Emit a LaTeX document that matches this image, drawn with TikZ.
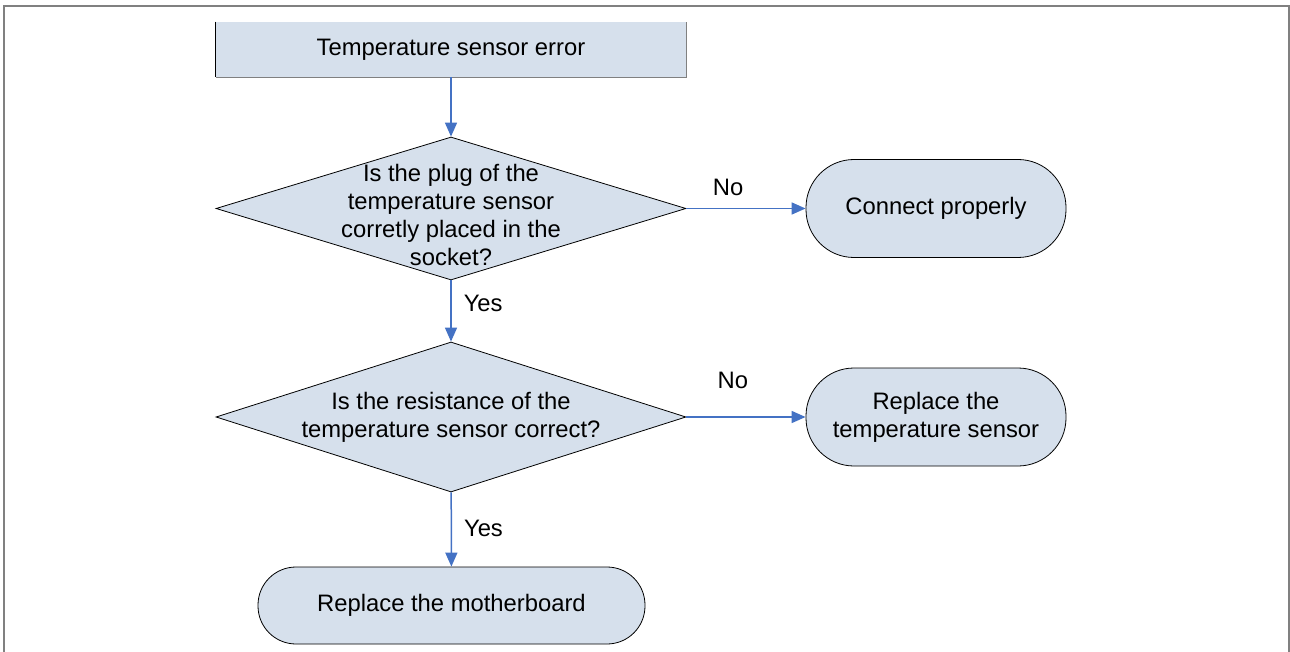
\documentclass[tikz,border=0pt]{standalone}
\usepackage{fontspec}
\setmainfont{Liberation Sans}
\usetikzlibrary{shapes.geometric, arrows.meta}
\definecolor{boxfill}{RGB}{214,224,236}
\definecolor{flowblue}{RGB}{68,114,196}

\begin{document}
\begin{tikzpicture}[x=0.5pt, y=-0.5pt,
    every node/.style={font=\fontsize{11.9}{14}\selectfont},
    startbox/.style={fill=boxfill, minimum width=235pt, minimum height=27.5pt, inner sep=0pt},
    decision/.style={diamond, draw, fill=boxfill, minimum width=235pt, minimum height=71.5pt, inner sep=0pt},
    terminal/.style={draw, fill=boxfill, rounded corners=24pt, minimum width=130pt, minimum height=49pt, align=center},
    flow/.style={flowblue, line width=0.75pt, -{Triangle[length=7pt, width=6pt]}},
    answer/.style={inner sep=0pt, text=black}]
    \useasboundingbox (0,0) rectangle (1290,652);
    \draw[gray, line width=1pt] (4,652) -- (4,6) -- (1289,6) -- (1289,652);

    \node[startbox] (err) at (451,49.5) {Temperature sensor error};
    \draw (err.north west) -- (err.south west);
    \draw[gray] (err.south west) -- (err.south east) -- (err.north east);

    \node[decision] (plug) at (451,208.5) {};
    \node[align=center] (plugtxt) at ([yshift=-3pt]plug.center) {Is the plug of the\\temperature sensor\\corretly placed in the\\socket?};
    \node[decision, minimum height=75pt] (res) at (451,417) {};
    \node[align=center] (restxt) at (res.center) {Is the resistance of the\\temperature sensor correct?};

    \node[terminal] (connect) at (936,208.5) {Connect properly};
    \node[terminal] (sensor) at (936,417) {Replace the\\temperature sensor};
    \node[terminal, rounded corners=19pt, minimum width=193.5pt, minimum height=38.5pt] (board) at (451.5,605.5) {Replace the motherboard};

    \draw[flow] (err) -- (plug);
    \draw[flow] (plug) -- node[answer, pos=0.37, right=6pt] (yes1) {Yes} (res);
    \draw[flow] (res) -- node[answer, pos=0.48, right=6pt] (yes2) {Yes} (board);
    \draw[flow] (plug) -- node[answer, pos=0.35, above=6pt] (no1) {No} (connect);
    \draw[flow] (res) -- node[answer, pos=0.39, above=14pt] (no2) {No} (sensor);
\end{tikzpicture}
\end{document}
